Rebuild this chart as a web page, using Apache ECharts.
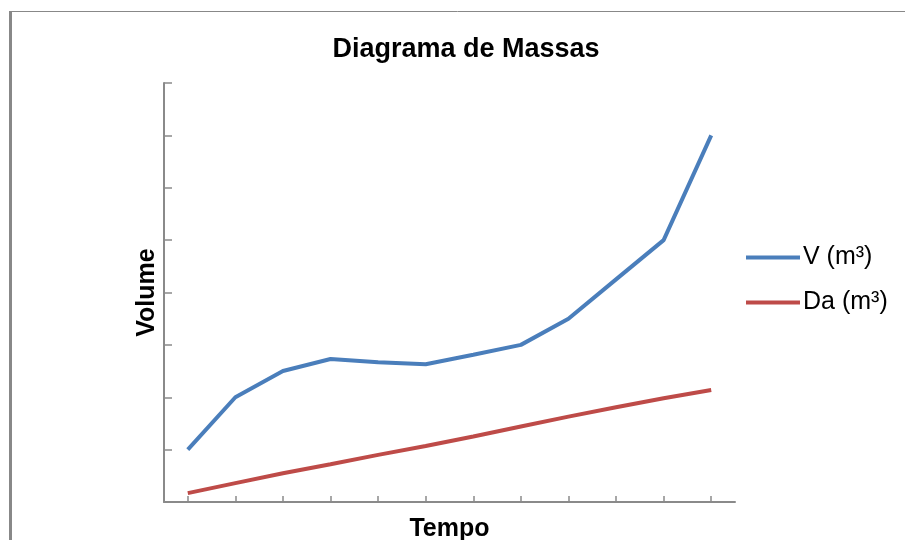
<!DOCTYPE html>
<html>
<head>
<meta charset="utf-8">
<title>Diagrama de Massas</title>
<script src="https://cdn.jsdelivr.net/npm/echarts@6/dist/echarts.min.js"></script>
<style>
    html, body { margin: 0; padding: 0; background: #fff; overflow: hidden; }
    #chart { width: 905px; height: 540px; }
</style>
</head>
<body>
<div id="chart"></div>
<script>
    // valores (unidades = divisões do eixo vertical)
    var periodos = ['1', '2', '3', '4', '5', '6', '7', '8', '9', '10', '11', '12'];
    var volume = [1.0, 2.0, 2.5, 2.73, 2.67, 2.63, 2.81, 3.0, 3.5, 4.25, 5.0, 7.0];
    var demanda = [0.17, 0.36, 0.55, 0.72, 0.9, 1.07, 1.25, 1.44, 1.63, 1.81, 1.98, 2.14];
    var nomes = ['V (m³)', 'Da (m³)'];
    var cores = ['#4A7EBB', '#BE4B48'];

    var fonte = '"Liberation Sans", Arial, sans-serif';
    var eixoCor = '#8a8a8a';

    var myChart = echarts.init(document.getElementById('chart'));
    var option = {
        backgroundColor: '#fff',
        animation: false,
        title: {
            text: 'Diagrama de Massas',
            left: 461,
            top: 31,
            textAlign: 'center',
            textStyle: { fontFamily: fonte, fontSize: 27, fontWeight: 'bold', color: '#000' }
        },
        legend: {
            orient: 'vertical',
            left: 741,
            top: 240,
            icon: 'rect',
            itemWidth: 54,
            itemHeight: 4,
            itemGap: 20,
            textStyle: { fontFamily: fonte, fontSize: 25, color: '#000', lineHeight: 25, padding: [0, 0, 0, -2] },
            data: nomes
        },
        grid: { left: 164, right: 170, top: 83, bottom: 38, containLabel: false, outerBoundsMode: 'none' },
        xAxis: {
            type: 'category',
            data: periodos,
            boundaryGap: true,
            name: 'Tempo',
            nameLocation: 'middle',
            nameGap: 15,
            nameTextStyle: { fontFamily: fonte, fontSize: 25, fontWeight: 'bold', color: '#000', verticalAlign: 'top' },
            axisLine: { lineStyle: { color: eixoCor, width: 2 } },
            axisTick: { show: true, interval: 0, inside: true, length: 6, alignWithLabel: true, lineStyle: { color: eixoCor, width: 1.5 } },
            axisLabel: { show: false, interval: 0 },
            splitLine: { show: false }
        },
        yAxis: {
            type: 'value',
            min: 0,
            max: 8,
            interval: 1,
            name: 'Volume',
            nameLocation: 'middle',
            nameGap: 4,
            nameTextStyle: { fontFamily: fonte, fontSize: 25, fontWeight: 'bold', color: '#000' },
            axisLine: { show: true, lineStyle: { color: eixoCor, width: 2 } },
            axisTick: { show: true, inside: true, length: 8, lineStyle: { color: eixoCor, width: 1.5 } },
            axisLabel: { show: false },
            splitLine: { show: false }
        },
        graphic: [
            // moldura da área do gráfico
            { type: 'line', shape: { x1: 10, y1: 11.5, x2: 905, y2: 11.5 }, style: { stroke: '#888', lineWidth: 1 } },
            { type: 'line', shape: { x1: 10.5, y1: 11, x2: 10.5, y2: 540 }, style: { stroke: '#888', lineWidth: 3 } }
        ],
        series: [
            {
                name: nomes[0],
                type: 'line',
                data: volume,
                showSymbol: false,
                color: cores[0],
                lineStyle: { width: 4, color: cores[0] }
            },
            {
                name: nomes[1],
                type: 'line',
                data: demanda,
                showSymbol: false,
                color: cores[1],
                lineStyle: { width: 4, color: cores[1] }
            }
        ]
    };
    myChart.setOption(option);
</script>
</body>
</html>
